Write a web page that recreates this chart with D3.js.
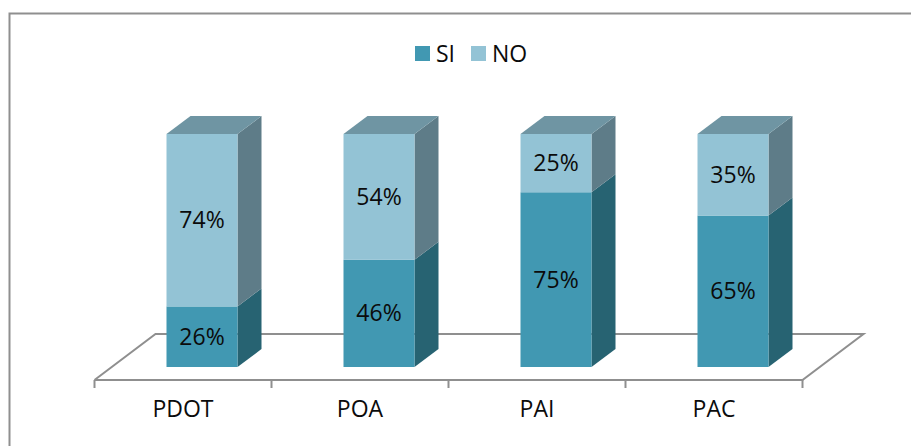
<!DOCTYPE html>
<html>
<head>
<meta charset="utf-8">
<script src="https://cdnjs.cloudflare.com/ajax/libs/d3/7.8.5/d3.min.js"></script>
<style>
  html, body { margin: 0; padding: 0; background: #fff; overflow: hidden; }
  svg { display: block; }
  text { font-family: "Open Sans", sans-serif; fill: #0b0b0b; }
</style>
</head>
<body>
<div id="chart"></div>
<script>
var categories = ["PDOT", "POA", "PAI", "PAC"];
var si = [26, 46, 75, 65];
var no = [74, 54, 25, 35];
var seriesNames = ["SI", "NO"];

var width = 911,
  height = 446;

var colors = { SI: "#4198b2", NO: "#93c3d5" };
var sideColors = { SI: "#276372", NO: "#5e7c88" };
var topColor = "#6f95a3";
var lineColor = "#8f8f8f";
var fontSize = "23px";

var svg = d3.select("#chart").append("svg")
            .attr("width", width)
            .attr("height", height);

// chart border, runs off the right and bottom of the picture
svg.append("path")
   .attr("d", "M9.5," + height + "V13.5H" + width)
   .attr("fill", "none")
   .attr("stroke", lineColor)
   .attr("stroke-width", 2);

var x = d3.scaleBand()
          .domain(categories)
          .range([94.5, 802.5]);

var y = d3.scaleLinear()
          .domain([0, 100])
          .range([367, 134]);

var barWidth = 71,
  barShift = 19,
  depthX = 24,
  depthY = 18,
  floorY = 380,
  floorX = 61,
  floorDepth = 46;

// floor of the 3d box
var floor = svg.append("g")
               .attr("fill", "none")
               .attr("stroke", lineColor)
               .attr("stroke-width", 2);

floor.append("path")
     .attr("d", d3.line()([
       [x.range()[0], floorY],
       [x.range()[0] + floorX, floorY - floorDepth],
       [x.range()[1] + floorX, floorY - floorDepth],
       [x.range()[1], floorY],
       [x.range()[0], floorY]
     ]));

// ticks sit on the band edges, so the axis only gives the labels
var tickEdges = categories.map(d => x(d)).concat(x.range()[1]);

floor.selectAll("line")
     .data(tickEdges)
     .enter().append("line")
     .attr("x1", d => d)
     .attr("x2", d => d)
     .attr("y1", floorY)
     .attr("y2", floorY + 8);

var axis = svg.append("g")
              .attr("transform", "translate(0," + floorY + ")")
              .call(d3.axisBottom(x).tickSize(0).tickPadding(21));
axis.select(".domain").remove();
axis.selectAll("text")
    .style("font-family", "'Open Sans', sans-serif")
    .style("font-size", fontSize)
    .attr("fill", "#0b0b0b");

var stackData = categories.map((c, i) => ({ category: c, SI: si[i], NO: no[i] }));
var stacked = d3.stack().keys(seriesNames)(stackData);

function barLeft(c) {
  return x(c) + x.bandwidth() / 2 + barShift - barWidth / 2;
}

stacked.forEach(series => {
  var g = svg.append("g").attr("class", "series-" + series.key);

  // right side
  g.selectAll("path.side")
   .data(series)
   .enter().append("path")
   .attr("class", "side")
   .attr("fill", sideColors[series.key])
   .attr("d", d => {
     var r = barLeft(d.data.category) + barWidth;
     return d3.line()([
       [r, y(d[0])],
       [r + depthX, y(d[0]) - depthY],
       [r + depthX, y(d[1]) - depthY],
       [r, y(d[1])]
     ]) + "Z";
   });

  // front
  g.selectAll("rect")
   .data(series)
   .enter().append("rect")
   .attr("x", d => barLeft(d.data.category))
   .attr("y", d => y(d[1]))
   .attr("width", barWidth)
   .attr("height", d => y(d[0]) - y(d[1]))
   .attr("fill", colors[series.key]);

  // top face only on the last series
  if (series.key === "NO") {
    g.selectAll("path.top")
     .data(series)
     .enter().append("path")
     .attr("class", "top")
     .attr("fill", topColor)
     .attr("d", d => {
       var l = barLeft(d.data.category);
       return d3.line()([
         [l, y(d[1])],
         [l + depthX, y(d[1]) - depthY],
         [l + barWidth + depthX, y(d[1]) - depthY],
         [l + barWidth, y(d[1])]
       ]) + "Z";
     });
  }

  g.selectAll("text")
   .data(series)
   .enter().append("text")
   .attr("x", d => barLeft(d.data.category) + barWidth / 2)
   .attr("y", d => (y(d[0]) + y(d[1])) / 2)
   .attr("dy", "0.35em")
   .attr("text-anchor", "middle")
   .style("font-size", fontSize)
   .text(d => (d[1] - d[0]) + "%");
});

// legend
var legendX = [415, 471];
var legend = svg.selectAll("g.legend")
                .data(seriesNames)
                .enter().append("g")
                .attr("class", "legend")
                .attr("transform", (d, i) => "translate(" + legendX[i] + ",46)");

legend.append("rect")
      .attr("width", 15)
      .attr("height", 15)
      .attr("fill", d => colors[d]);

legend.append("text")
      .attr("x", 21)
      .attr("y", 7.5)
      .attr("dy", "0.35em")
      .style("font-size", fontSize)
      .text(d => d);
</script>
</body>
</html>
